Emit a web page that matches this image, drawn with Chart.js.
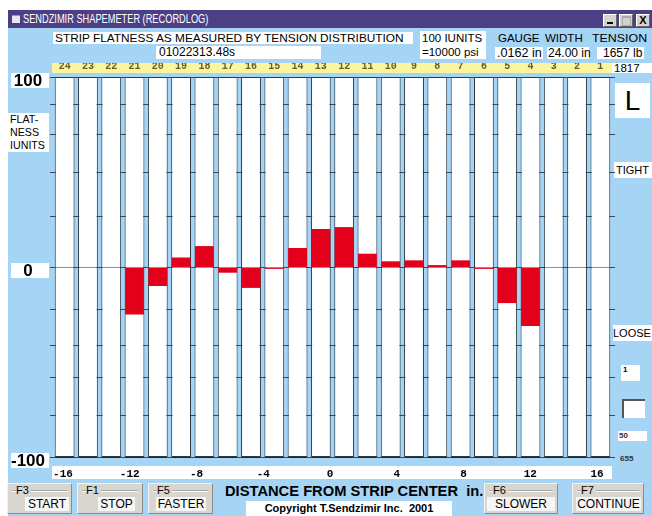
<!DOCTYPE html>
<html>
<head>
<meta charset="utf-8">
<script src="https://cdn.jsdelivr.net/npm/chart.js@4.4.1/dist/chart.umd.min.js"></script>
<style>
body { margin: 0; background: #fff; }
#wrap { position: relative; width: 652px; height: 516px; overflow: hidden; font-family: "Liberation Sans", Arial, sans-serif; color: #000; }
.a { position: absolute; white-space: nowrap; }
.w { background: #fff; }
.n { transform-origin: 0 0; display: inline-block; }
#win { left: 8px; top: 10px; width: 644px; height: 506px; background: #a6d4f4; }
#title { left: 8px; top: 10px; width: 644px; height: 18px; background: #4c3f85; color: #fff; font-size: 12px; line-height: 18px; }
.tb { top: 14px; width: 14px; height: 13px; background: #d6d3ce; border: 1px solid #fff; border-right-color: #666; border-bottom-color: #666; box-sizing: border-box; font: bold 11px/11px "Liberation Sans", Arial; text-align: center; color: #000; }
.btn { top: 483px; height: 31px; background: #d9d6d0; border: 1px solid #f4f4f4; border-right-color: #8a8a8a; border-bottom-color: #8a8a8a; box-sizing: border-box; }
.btn .f { position: absolute; left: 8px; top: 1px; font-size: 11px; line-height: 11px; background: #d9d6d0; padding-right: 2px; }
.btn .ln { position: absolute; left: 4px; right: 4px; top: 6px; border-top: 1px solid #a8a6a2; border-bottom: 1px solid #fff; }
.btn .l { position: absolute; top: 13px; height: 14px; background: #f6f6f6; font-size: 12px; line-height: 14px; text-align: center; }
#cv { position: absolute; left: 0; top: 0; }
</style>
</head>
<body>
<div id="wrap">
  <div class="a" id="win"></div>
  <div class="a" id="title">
    <span class="a" style="left:4px;top:5px;width:8px;height:7px;background:#e8e8e8;border-top:1px solid #999;"></span>
    <span class="a" style="left:15px;top:0"><span class="n" style="transform:scaleX(.77)">SENDZIMIR SHAPEMETER (RECORDLOG)</span></span>
  </div>
  <div class="a tb" style="left:603px"><span class="a" style="left:3px;top:7px;width:6px;height:2px;background:#000;"></span></div>
  <div class="a tb" style="left:619px"><span class="a" style="left:2px;top:1px;width:7px;height:7px;border:1px solid #aaa;border-top-width:2px;"></span></div>
  <div class="a tb" style="left:636px">X</div>

  <div class="a w" style="left:53px;top:32px;width:360px;height:12px;font-size:11.5px;line-height:12px;padding-left:2px;box-sizing:border-box;"><span class="n" style="transform:scaleX(1.03)">STRIP FLATNESS AS MEASURED BY TENSION DISTRIBUTION</span></div>
  <div class="a w" style="left:156px;top:46px;width:165px;height:13px;font-size:12px;line-height:13px;padding-left:3px;box-sizing:border-box;">01022313.48s</div>
  <div class="a w" style="left:420px;top:31px;width:66px;height:28px;font-size:11.5px;line-height:14px;padding-left:2px;box-sizing:border-box;">100 IUNITS<br>=10000 psi</div>
  <div class="a" style="left:498px;top:32px;font-size:11.5px;line-height:12px;">GAUGE</div>
  <div class="a" style="left:545px;top:32px;font-size:11.5px;line-height:12px;">WIDTH</div>
  <div class="a" style="left:592px;top:32px;font-size:11.5px;line-height:12px;"><span class="n" style="transform:scaleX(1.08)">TENSION</span></div>
  <div class="a w" style="left:495px;top:47px;width:48px;height:12px;font-size:12px;line-height:12px;padding-left:2px;box-sizing:border-box;"><span class="n" style="transform:scaleX(1.05)">.0162 in</span></div>
  <div class="a w" style="left:547px;top:47px;width:42px;height:12px;font-size:12px;line-height:12px;padding-left:1px;box-sizing:border-box;">24.00 in</div>
  <div class="a w" style="left:597px;top:47px;width:47px;height:12px;font-size:12px;line-height:12px;padding-left:6px;box-sizing:border-box;">1657 lb</div>

  <div class="a" style="left:52px;top:63px;width:560px;height:10px;background:#fbf69e;"></div>
  <div class="a w" style="left:612px;top:63px;width:40px;height:10px;font-size:11px;line-height:10px;padding-left:2px;box-sizing:border-box;"><span class="n" style="transform:scaleX(1.05)">1817</span></div>

  <div class="a w" style="left:8px;top:113px;width:41px;height:39px;font-size:11px;line-height:13px;padding-left:2px;box-sizing:border-box;"><span class="n" style="transform:scaleX(.97)">FLAT-<br>NESS<br>IUNITS</span></div>

  <div class="a w" style="left:615px;top:83px;width:35px;height:35px;font-size:28px;line-height:35px;text-align:center;">L</div>
  <div class="a w" style="left:614px;top:162px;width:38px;height:16px;font-size:11px;line-height:16px;padding-left:2px;box-sizing:border-box;">TIGHT</div>
  <div class="a w" style="left:613px;top:325px;width:39px;height:16px;font-size:11px;line-height:16px;">LOOSE</div>
  <div class="a w" style="left:621px;top:365px;width:19px;height:16px;font-size:8px;line-height:10px;padding-left:2px;box-sizing:border-box;font-weight:bold;">1</div>
  <div class="a w" style="left:622px;top:399px;width:23px;height:19px;border-top:2px solid #555;border-left:2px solid #555;box-sizing:border-box;"></div>
  <div class="a w" style="left:618px;top:431px;width:29px;height:10px;font-size:8px;line-height:10px;padding-left:1px;box-sizing:border-box;font-weight:bold;color:#333;">50</div>
  <div class="a" style="left:620px;top:454px;font-size:8px;line-height:10px;font-weight:bold;color:#333;">655</div>

  <div class="a w" style="left:52px;top:466px;width:560px;height:13px;"></div>

  <div class="a btn" style="left:7px;width:65px;"><div class="ln"></div><div class="f">F3</div><div class="l" style="left:17px;width:44px;">START</div></div>
  <div class="a btn" style="left:77px;width:66px;"><div class="ln"></div><div class="f">F1</div><div class="l" style="left:20px;width:37px;">STOP</div></div>
  <div class="a btn" style="left:148px;width:65px;"><div class="ln"></div><div class="f">F5</div><div class="l" style="left:7px;width:50px;">FASTER</div></div>
  <div class="a btn" style="left:484px;width:74px;"><div class="ln"></div><div class="f">F6</div><div class="l" style="left:2px;width:68px;">SLOWER</div></div>
  <div class="a btn" style="left:572px;width:72px;"><div class="ln"></div><div class="f">F7</div><div class="l" style="left:3px;width:65px;">CONTINUE</div></div>

  <div class="a" style="left:225px;top:483px;font-size:14px;line-height:16px;font-weight:bold;"><span class="n" style="transform:scaleX(1.05)">DISTANCE FROM STRIP CENTER&nbsp; in.</span></div>
  <div class="a w" style="left:246px;top:501px;width:206px;height:15px;font-size:11px;line-height:15px;font-weight:bold;text-align:center;">Copyright T.Sendzimir Inc.&nbsp; 2001</div>

  <canvas id="cv" width="652" height="516"></canvas>
</div>
<script>
// zone numbers, operator side (24) to drive side (1)
const zones = ['24', '23', '22', '21', '20', '19', '18', '17', '16', '15', '14', '13',
  '12', '11', '10', '9', '8', '7', '6', '5', '4', '3', '2', '1'];
// flatness, I-units (+ = tight, - = loose)
const flatness = [0, 0, 0, -25, -10, 5, 11, -3, -11, -1, 10, 20,
  21, 7, 3, 3.5, 1, 3.5, -1, -19, -31, 0, 0, 0];
const yRange = [-100, 100];
const yLabels = [-100, 0, 100];
// small marks on the zone separators
const markLevels = [100, 86, 70, 50, 27, 0, -22, -41, -58, -78, -100];
// distance from strip centre, inches
const distTicks = [-16, -12, -8, -4, 0, 4, 8, 12, 16];
const distRange = [-16.6, 16.9];

const ctx = document.getElementById('cv').getContext('2d');

const shapeLines = {
  id: 'shapeLines',
  beforeDraw(chart) {
    const c = chart.ctx, y = chart.scales.y;
    c.save();
    c.fillStyle = '#fff';
    yLabels.forEach(v => {
      const py = y.getPixelForValue(v) + 4;
      c.fillRect(11, Math.round(py - 8), 38, 15);
    });
    c.restore();
  },
  afterDatasetsDraw(chart) {
    const c = chart.ctx, x = chart.scales.x, y = chart.scales.y, a = chart.chartArea;
    c.save();
    // red zero line inside each zone column
    const y0 = Math.round(y.getPixelForValue(0)) + 0.5;
    c.strokeStyle = '#ec6a72';
    c.lineWidth = 1;
    c.beginPath();
    chart.getDatasetMeta(1).data.forEach(el => {
      c.moveTo(el.x - el.width / 2, y0);
      c.lineTo(el.x + el.width / 2, y0);
    });
    c.stroke();
    const bounds = [a.left];
    for (let i = 1; i < zones.length; i++) {
      bounds.push((x.getPixelForValue(i - 1) + x.getPixelForValue(i)) / 2);
    }
    bounds.push(a.right);
    c.strokeStyle = '#3c4650';
    c.beginPath();
    bounds.forEach(bx => {
      markLevels.forEach(v => {
        const py = Math.round(y.getPixelForValue(v)) + 0.5;
        c.moveTo(bx - 3, py);
        c.lineTo(bx + 3, py);
      });
    });
    c.stroke();
    c.restore();
  }
};

const chart = new Chart(ctx, {
  type: 'bar',
  data: {
    labels: zones,
    datasets: [{
      label: 'Flatness',
      data: flatness,
      backgroundColor: '#e2001a',
      borderWidth: 0,
      grouped: false,
      barPercentage: 1,
      categoryPercentage: 0.81
    }, {
      label: 'Zone',
      data: zones.map(() => yRange),
      backgroundColor: '#fff',
      borderColor: '#2e3a44',
      borderWidth: 1,
      borderSkipped: false,
      grouped: false,
      barPercentage: 1,
      categoryPercentage: 0.85
    }]
  },
  options: {
    responsive: false,
    animation: false,
    layout: { padding: { left: 8, right: 40, top: 63, bottom: 37 } },
    plugins: { legend: { display: false }, tooltip: { enabled: false } },
    scales: {
      x: { type: 'category', display: false },
      xt: {
        type: 'category',
        position: 'top',
        labels: zones,
        grid: { display: false, drawTicks: false },
        border: { display: false },
        ticks: { autoSkip: false, maxRotation: 0, padding: 5, color: '#6b5a2b',
          font: { family: 'Liberation Mono', size: 10, weight: 'bold' } },
        afterFit: s => { s.height = 14; }
      },
      xd: {
        type: 'linear',
        position: 'bottom',
        offset: false,
        min: distRange[0],
        max: distRange[1],
        afterBuildTicks: s => { s.ticks = distTicks.map(v => ({ value: v })); },
        grid: { display: false, drawTicks: false, offset: false },
        border: { display: true, color: '#222' },
        ticks: { padding: 11, color: '#000',
          font: { family: 'Liberation Mono', size: 11, weight: 'bold' } },
        afterFit: s => { s.height = 22; }
      },
      y: {
        min: yRange[0],
        max: yRange[1],
        afterBuildTicks: s => { s.ticks = yLabels.map(v => ({ value: v })); },
        grid: { display: false, drawTicks: true, tickLength: 5 },
        border: { display: false },
        ticks: { crossAlign: 'center', labelOffset: 4, color: '#000',
          font: { family: 'Liberation Sans', size: 17, weight: 'bold' } },
        afterFit: s => { s.width = 45; }
      }
    }
  },
  plugins: [shapeLines]
});
</script>
</body>
</html>
